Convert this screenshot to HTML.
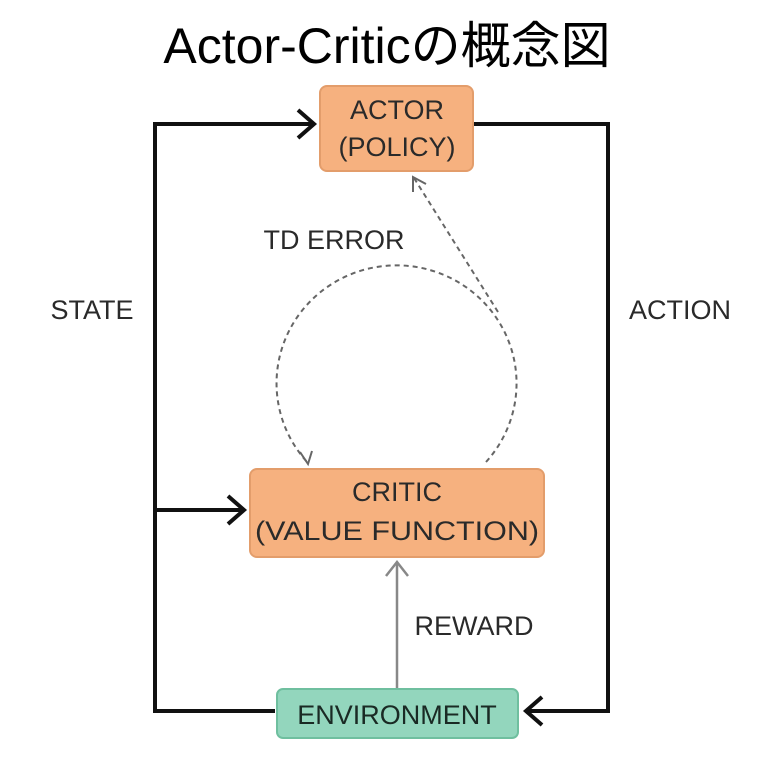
<!DOCTYPE html>
<html><head><meta charset="utf-8"><style>
body{margin:0;background:#fff;width:775px;height:777px;overflow:hidden}
svg text{font-family:"Liberation Sans","Noto Sans CJK JP",sans-serif}
</style></head><body>
<svg width="775" height="777" viewBox="0 0 775 777" xmlns="http://www.w3.org/2000/svg">
<text x="387" y="63" font-size="50" text-anchor="middle" fill="#000">Actor-Criticの概念図</text>
<g stroke="#111" stroke-width="4" fill="none">
<polyline points="275,711 155,711 155,124 314,124"/>
<polyline points="298,110 314,124 298,138"/>
<polyline points="474,124 608,124 608,711 526,711"/>
<polyline points="542,697 526,711 542,725"/>
<line x1="155" y1="510" x2="244" y2="510"/>
<polyline points="228,496 244,510 228,524"/>
</g>
<line x1="397" y1="688" x2="397" y2="562" stroke="#888" stroke-width="2.5"/>
<polyline points="386,576 397,562 408,576" stroke="#888" stroke-width="2.5" fill="none"/>
<g stroke="#666" stroke-width="2" fill="none" stroke-dasharray="5,4">
<path d="M486,462 A120,118 0 1 0 308,463"/>
<line x1="498" y1="312" x2="414" y2="178"/>
</g>
<polyline points="300,452 308,464 312,451" stroke="#666" stroke-width="2" fill="none"/>
<polyline points="413,192 413,177 426,184" stroke="#666" stroke-width="2" fill="none"/>
<rect x="320" y="86" width="153" height="85" rx="7" fill="#f6b17f" stroke="#e39d6b" stroke-width="2"/>
<rect x="250" y="469" width="294" height="88" rx="7" fill="#f6b17f" stroke="#e39d6b" stroke-width="2"/>
<rect x="277" y="689" width="241" height="49" rx="6" fill="#93d6bd" stroke="#6fbf9f" stroke-width="2"/>
<g font-size="27" fill="#2a2a2a" text-anchor="middle">
<text x="397" y="119">ACTOR</text>
<text x="397" y="156">(POLICY)</text>
<text x="397" y="501">CRITIC</text>
<text x="397" y="540" textLength="284" lengthAdjust="spacingAndGlyphs">(VALUE FUNCTION)</text>
<text x="397" y="724" fill="#1a2a24">ENVIRONMENT</text>
<text x="334" y="249">TD ERROR</text>
<text x="92" y="319">STATE</text>
<text x="680" y="319">ACTION</text>
<text x="474" y="635">REWARD</text>
</g>
</svg>
</body></html>
